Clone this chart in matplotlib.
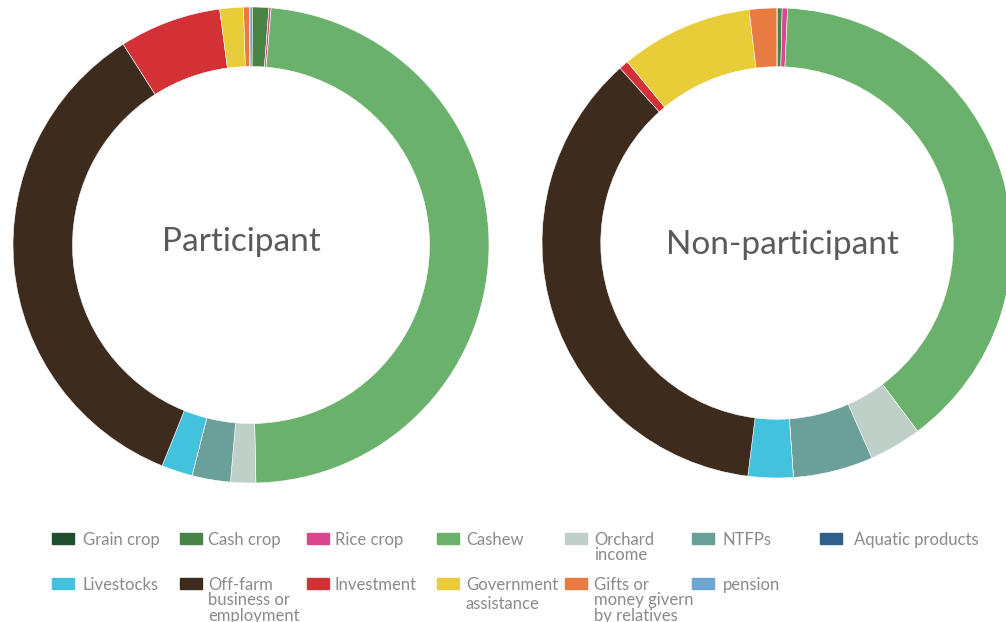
import numpy as np
import matplotlib.pyplot as plt
from matplotlib.patches import Rectangle

plt.rcParams['font.family'] = ['Lato', 'DejaVu Sans']

# income sources (clockwise from 12 o'clock)
categories = ['Grain crop', 'Cash crop', 'Rice crop', 'Cashew', 'Orchard income',
              'NTFPs', 'Aquatic products', 'Livestocks',
              'Off-farm business or employment', 'Investment',
              'Government assistance', 'Gifts or money givern by relatives', 'pension']
participant = [0.1, 1.1, 0.15, 48.2, 1.7, 2.6, 0.0, 2.1, 34.8, 6.9, 1.6, 0.4, 0.1]
non_participant = [0.0, 0.35, 0.37, 39.1, 3.6, 5.5, 0.0, 3.1, 36.4, 0.65, 9.1, 1.9, 0.0]
colors = ['#1f4e2c', '#4a8445', '#d9488f', '#6ab26c', '#bfd0c8', '#6a9f9a', '#2f5f8a',
          '#42c2dc', '#3d2b1e', '#d33136', '#e8cc38', '#e87b41', '#6ea3d2']

# legend text (with the line breaks used in the original)
legend_labels = ['Grain crop', 'Cash crop', 'Rice crop', 'Cashew', 'Orchard\nincome',
                 'NTFPs', 'Aquatic products', 'Livestocks',
                 'Off-farm\nbusiness or\nemployment', 'Investment',
                 'Government\nassistance', 'Gifts or\nmoney givern\nby relatives', 'pension']

W, H = 1006, 622
fig = plt.figure(figsize=(W / 100, H / 100), dpi=100)


def donut(cx, cy, r, values, title, tx, ty):
    ax = fig.add_axes([(cx - r) / W, 1 - (cy + r) / H, 2 * r / W, 2 * r / H])
    ax.pie(values, colors=colors, startangle=90, counterclock=False, radius=1,
           wedgeprops=dict(width=0.25, edgecolor='white', linewidth=0.4))
    ax.set_xlim(-1, 1)
    ax.set_ylim(-1, 1)
    ax.set_aspect('equal')
    ax.axis('off')
    fig.text(tx / W, 1 - ty / H, title, ha='center', va='center',
             fontsize=24, color='#5a5a5a')


donut(251, 245, 238, participant, 'Participant', 241, 242)
donut(777, 243, 235, non_participant, 'Non-participant', 782, 245)

# legend, 7 columns x 2 rows
patch_x = [52, 180, 307, 437, 565, 692, 820]
text_x = [83, 208, 335, 466, 594, 723, 854]
row_y = [538.5, 583.5]
for i, (lab, col) in enumerate(zip(legend_labels, colors)):
    r, c = divmod(i, 7)
    y = row_y[r]
    fig.patches.append(Rectangle((patch_x[c] / W, 1 - (y + 5.5) / H), 22 / W, 11 / H,
                                 transform=fig.transFigure, color=col))
    ls = 1.2 if lab.startswith('Government') else 0.96
    fig.text(text_x[c] / W, 1 - (y - 6.5) / H, lab, ha='left', va='top',
             fontsize=12, color='#8a8a8a', linespacing=ls)

plt.savefig('out.png', dpi=100)
